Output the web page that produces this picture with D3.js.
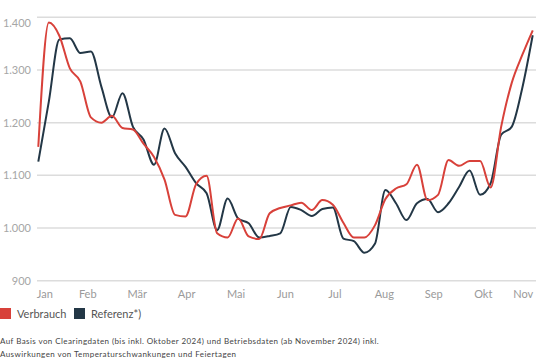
<!DOCTYPE html>
<html><head><meta charset="utf-8">
<script src="https://cdn.jsdelivr.net/npm/d3@7"></script>
<style>
html,body{margin:0;padding:0;background:#fff;}
svg{display:block;font-family:Lato,"Open Sans",sans-serif;}
</style></head>
<body>
<svg id="chart" width="540" height="360"></svg>
<script>
const months = ["Jan","Feb","Mär","Apr","Mai","Jun","Jul","Aug","Sep","Okt","Nov"];
const yTicks = [900, 1000, 1100, 1200, 1300, 1400];
const verbrauch = [1154,1390,1365,1303,1278,1210,1200,1213,1190,1187,1160,1135,1092,1025,1022,1083,1099,990,982,1018,984,979,1028,1038,1043,1048,1034,1053,1044,1010,982,982,1005,1055,1075,1083,1120,1053,1063,1129,1118,1127,1127,1077,1192,1275,1328,1375];
const referenz = [1126,1240,1358,1360,1332,1335,1268,1210,1256,1192,1168,1120,1189,1142,1116,1085,1066,996,1056,1018,1009,982,985,990,1040,1034,1023,1036,1039,980,975,953,970,1072,1047,1015,1047,1055,1030,1047,1078,1109,1063,1085,1177,1192,1265,1366];
const seriesNames = ["Verbrauch","Referenz*)"];
const colors = ["#d8413a","#233746"];
const footnotes = ["Auf Basis von Clearingdaten (bis inkl. Oktober 2024) und Betriebsdaten (ab November 2024) inkl.",
                   "Auswirkungen von Temperaturschwankungen und Feiertagen"];

const svg = d3.select("#chart");
const x0 = 38.3, x1 = 532.7;
const x = d3.scaleLinear().domain([0, verbrauch.length - 1]).range([x0, x1]);
const xm = d3.scalePoint().domain(months).range([x0, x1]);
const y = d3.scaleLinear().domain([900, 1400]).range([280.7, 17.3]);
const fmt = v => d3.format(",")(v).replace(/,/g, ".");

// gridlines
svg.append("g").selectAll("line").data(yTicks).join("line")
  .attr("x1", 37).attr("x2", 536)
  .attr("y1", d => y(d)).attr("y2", d => y(d))
  .attr("stroke", "#dcdcdc").attr("stroke-width", 1.5);

// y labels
svg.append("g").selectAll("text").data(yTicks).join("text")
  .attr("x", 31).attr("y", d => y(d) + (d === 1400 ? 5.5 : 0))
  .attr("dy", "0.35em").attr("text-anchor", "end")
  .attr("fill", "#a6a6a6").attr("font-size", 11)
  .text(d => fmt(d));

// x labels
svg.append("g").selectAll("text").data(months).join("text")
  .attr("x", (d, i) => i === 0 ? xm(d) - 1.5 : (i === months.length - 1 ? xm(d) + 0.5 : xm(d)))
  .attr("y", 294).attr("dy", "0.35em")
  .attr("text-anchor", (d, i) => i === 0 ? "start" : (i === months.length - 1 ? "end" : "middle"))
  .attr("fill", "#9a9a9a").attr("font-size", 11)
  .text(d => d);

// lines
const line = d3.line().x((d, i) => x(i)).y(d => y(d)).curve(d3.curveMonotoneX);
[referenz, verbrauch].forEach((s, j) => {
  svg.append("path").datum(s)
    .attr("d", line).attr("fill", "none")
    .attr("stroke", j === 0 ? colors[1] : colors[0])
    .attr("stroke-width", 2).attr("stroke-linejoin", "round");
});

// legend
const leg = svg.append("g");
const legX = [0, 74];
seriesNames.forEach((n, i) => {
  leg.append("rect").attr("x", legX[i]).attr("y", 308).attr("width", 11).attr("height", 11).attr("fill", colors[i]);
  leg.append("text").attr("x", legX[i] + 17).attr("y", 314).attr("dy", "0.35em")
    .attr("fill", "#555").attr("font-size", 11).text(n);
});

// footnotes
svg.append("g").selectAll("text").data(footnotes).join("text")
  .attr("x", 0).attr("y", (d, i) => 341 + i * 13).attr("dy", "0.35em")
  .attr("fill", "#444").attr("font-size", 8).attr("letter-spacing", 0.42).text(d => d);
</script>
</body></html>
